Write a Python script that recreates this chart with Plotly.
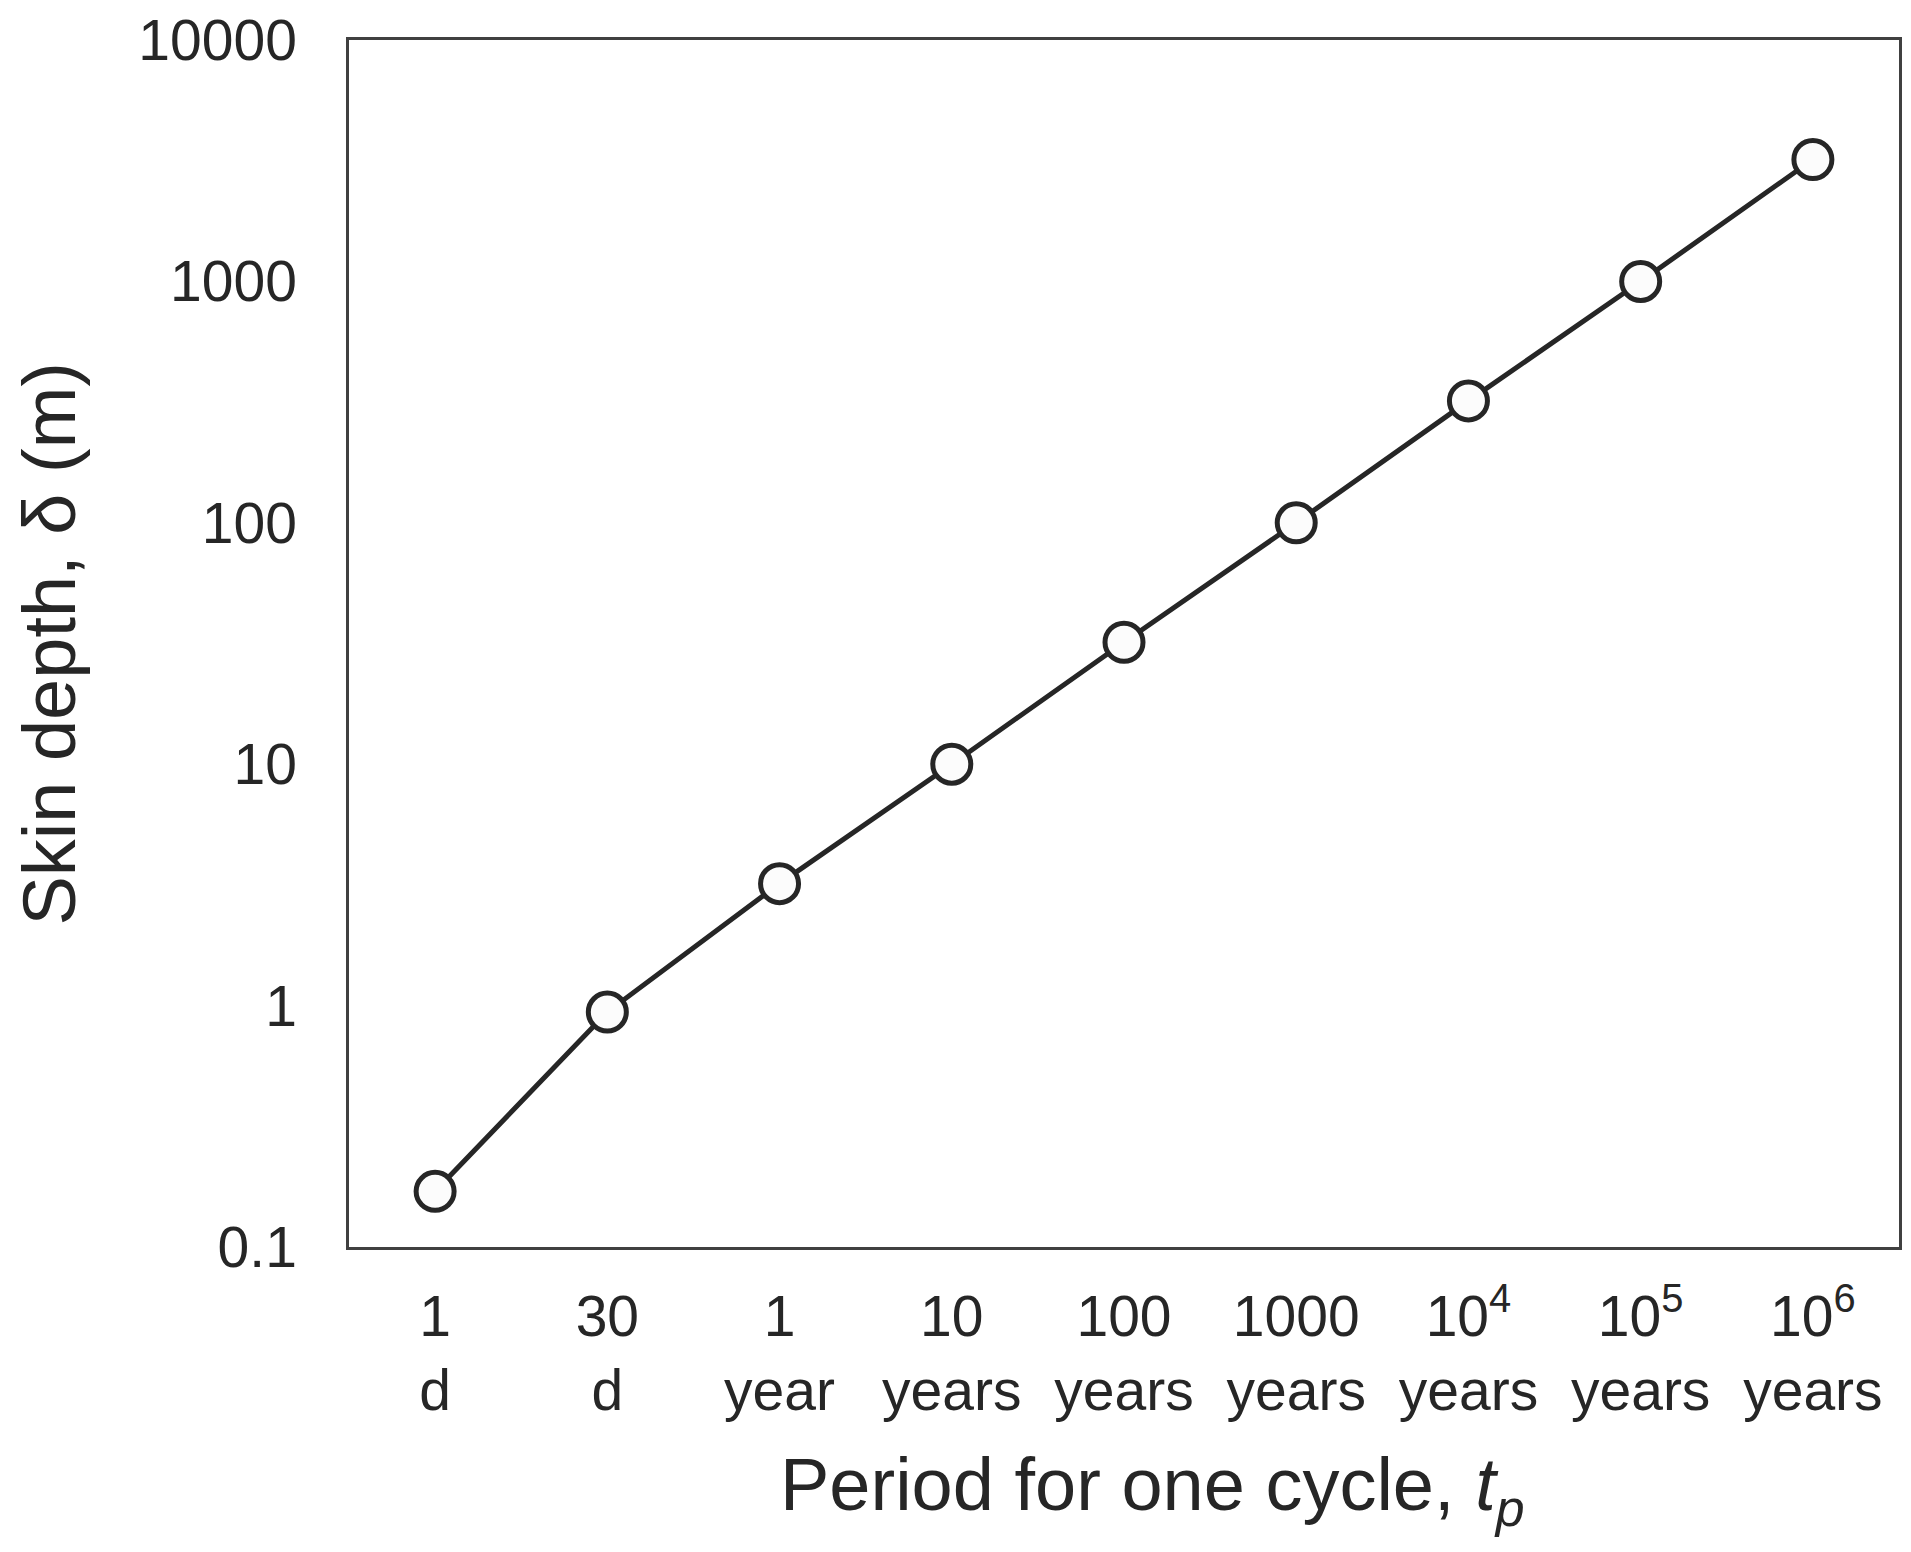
import plotly.graph_objects as go

# Data
categories = ["1 d", "30 d", "1 year", "10 years", "100 years", "1000 years",
              "1e4 years", "1e5 years", "1e6 years"]
tick_labels = ["1<br>d", "30<br>d", "1<br>year", "10<br>years", "100<br>years",
               "1000<br>years", "10<sup>4</sup><br>years", "10<sup>5</sup><br>years",
               "10<sup>6</sup><br>years"]
skin_depth_m = [0.17, 0.94, 3.2, 10, 32, 100, 320, 1000, 3200]
y_tick_vals = [0.1, 1, 10, 100, 1000, 10000]
y_tick_text = ["0.1", "1", "10", "100", "1000", "10000"]

ink = "#262626"
font_family = "Liberation Sans, Arial, sans-serif"

fig = go.Figure()
fig.add_trace(go.Scatter(
    x=categories, y=skin_depth_m, mode="lines+markers",
    line=dict(color=ink, width=5),
    marker=dict(symbol="circle", size=38, color="#fcfcfc",
                line=dict(color=ink, width=5)),
    showlegend=False, hoverinfo="skip",
))

fig.update_layout(
    width=1911, height=1552,
    margin=dict(l=341, r=20, t=32, b=313, autoexpand=False),
    paper_bgcolor="white", plot_bgcolor="white",
    font=dict(family=font_family, color=ink, size=57),
    xaxis=dict(
        type="category", categoryorder="array", categoryarray=categories,
        tickmode="array", tickvals=categories, ticktext=tick_labels,
        range=[-0.5, 8.5], showgrid=False, zeroline=False,
        showline=True, mirror=True, linecolor="#404040", linewidth=2.5,
        ticks="", ticklabelstandoff=18, automargin=False,
        tickfont=dict(size=57, family=font_family, color=ink),
    ),
    yaxis=dict(
        type="log", range=[-1.0002, 4.0002],
        tickmode="array", tickvals=y_tick_vals, ticktext=y_tick_text,
        showgrid=False, zeroline=False,
        showline=True, mirror=True, linecolor="#404040", linewidth=2.5,
        ticks="", ticklabelstandoff=38, automargin=False,
        tickfont=dict(size=57, family=font_family, color=ink),
    ),
    annotations=[
        dict(text="Period for one cycle, <i>t<sub>p</sub></i>",
             xref="paper", yref="paper", x=0.5185, y=-0.2015,
             xanchor="center", yanchor="middle", showarrow=False,
             font=dict(size=74, family=font_family, color=ink)),
        dict(text="Skin depth, δ (m)",
             xref="paper", yref="paper", x=-0.1935, y=0.5,
             xanchor="center", yanchor="middle", showarrow=False, textangle=-90,
             font=dict(size=74, family=font_family, color=ink)),
    ],
)

fig.write_html("out.html")
